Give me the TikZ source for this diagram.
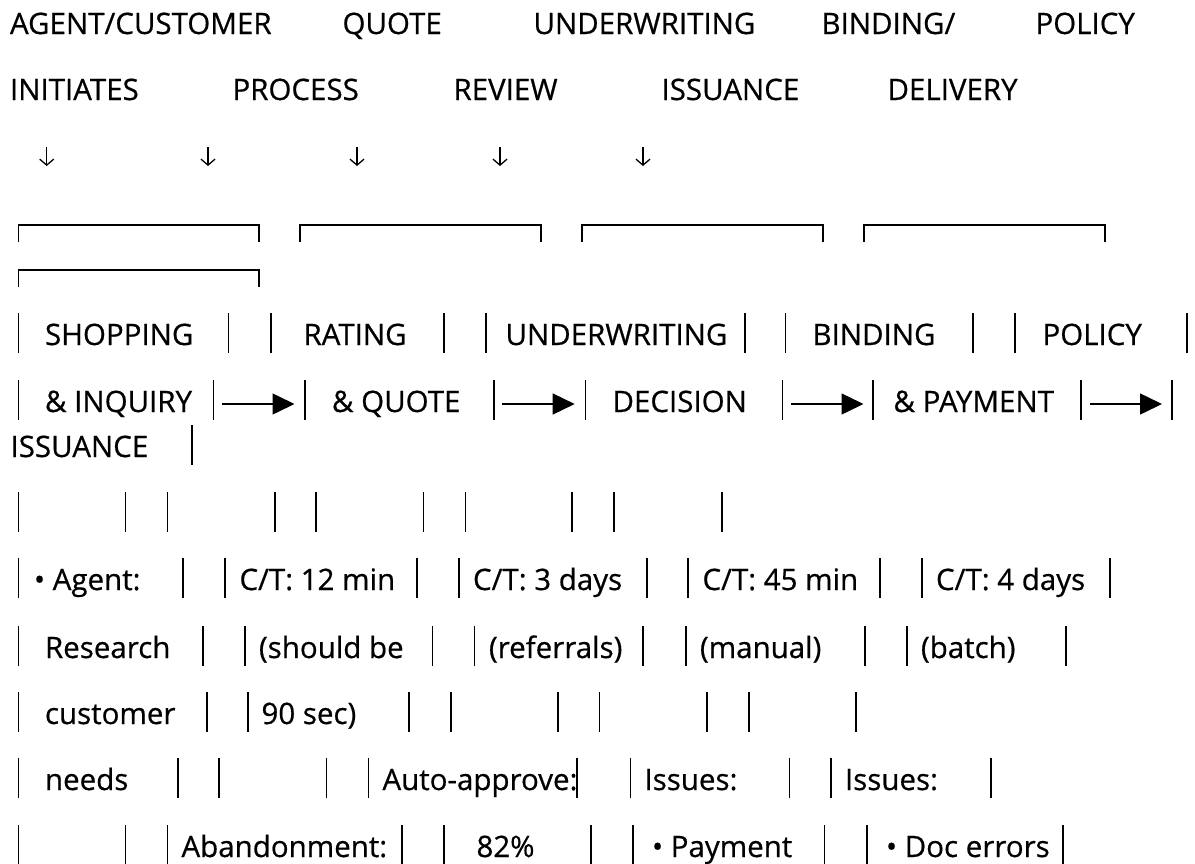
\documentclass[tikz,border=0pt]{standalone}
\usepackage{fontspec}
\setmainfont{Open Sans}[FakeBold=0.6]
\usetikzlibrary{arrows.meta}
\tikzset{
  txt/.style={anchor=base west, inner sep=0pt, outer sep=0pt, font=\fontsize{29.5}{36}\selectfont},
  bar/.style={line width=1.6pt, line cap=butt},
  flow/.style={line width=1.5pt, -{Triangle[length=22pt,width=21pt]}},
  down/.style={line width=1.3pt, -{Straight Barb[length=6pt,width=14pt]}},
}
\newcommand{\vbars}[2]{\foreach \bx in {#1} {\draw[bar] (\bx,#2-32) -- (\bx,#2+8);}}
\newcommand{\boxtop}[3]{\draw[bar] (#1,#3+17) -- (#1,#3) -- (#2,#3) -- (#2,#3+17);}
\begin{document}
\begin{tikzpicture}[x=1pt,y=-1pt]
\useasboundingbox (0,0) rectangle (1195,863);
% header rows
\node[txt] (h1) at (10,34) {AGENT/CUSTOMER};
\node[txt] (h2) at (342.5,34) {QUOTE};
\node[txt] (h3) at (533.5,34) {UNDERWRITING};
\node[txt] (h4) at (821.5,34) {BINDING/};
\node[txt] (h5) at (1035.5,34) {POLICY};
\node[txt] (g1) at (10,100) {INITIATES};
\node[txt] (g2) at (232.5,100) {PROCESS};
\node[txt] (g3) at (453.5,100) {REVIEW};
\node[txt] (g4) at (661.5,100) {ISSUANCE};
\node[txt] (g5) at (887.5,100) {DELIVERY};
% down arrows
\foreach \n/\ax in {1/46.7,2/208,3/357,4/500,5/643}{
  \coordinate (d\n s) at (\ax,147);
  \coordinate (d\n e) at (\ax,166);
  \draw[down] (d\n s) -- (d\n e);
}
% box tops
\boxtop{18.4}{259}{225}
\boxtop{300}{541}{225}
\boxtop{582}{822.7}{225}
\boxtop{864}{1105}{225}
\boxtop{18.4}{259}{270}
% stage names
\vbars{18.4,228.5,271,444,486,745,785.6,973,1015,1187}{345}
\node[txt] (s1) at (45,345) {SHOPPING};
\node[txt] (s2) at (303.5,345) {RATING};
\node[txt] (s3) at (505.5,345) {UNDERWRITING};
\node[txt] (s4) at (812.5,345) {BINDING};
\node[txt] (s5) at (1042.5,345) {POLICY};
\vbars{18.4,213.5,305,493.7,585.5,782.5,873,1081,1172}{412}
\node[txt] (t1) at (45,412) {\& INQUIRY};
\node[txt] (t2) at (332,412) {\& QUOTE};
\node[txt] (t3) at (612.5,412) {DECISION};
\node[txt] (t4) at (893.5,412) {\& PAYMENT};
\foreach \n/\bx in {1/213.5,2/493.7,3/782.5,4/1081}{
  \coordinate (f\n s) at (\bx+8.5,404);
  \coordinate (f\n e) at (\bx+81,404);
  \draw[flow] (f\n s) -- (f\n e);
}
\vbars{191.7}{457}
\node[txt] (u1) at (10.5,457) {ISSUANCE};
\vbars{18.4,125.5,167.6,274.8,316,423.6,465.4,572,614,722}{524}
% details
\vbars{18.4,183,225,417,459,646.7,688,880,922,1109.7}{590}
\node[txt] (c1) at (34,590) {• Agent:};
\node[txt] (c2) at (239.5,590) {C/T: 12 min};
\node[txt] (c3) at (473,590) {C/T: 3 days};
\node[txt] (c4) at (702.5,590) {C/T: 45 min};
\node[txt] (c5) at (936,590) {C/T: 4 days};
\vbars{18.4,203,245,432.5,474.5,643,685.7,865,907,1065.7}{658}
\node[txt] (r1) at (45,658) {Research};
\node[txt] (r2) at (259,658) {(should be};
\node[txt] (r3) at (489,658) {(referrals)};
\node[txt] (r4) at (700,658) {(manual)};
\node[txt] (r5) at (921,658) {(batch)};
\vbars{18.4,206.7,248,408.7,450.8,558,599.6,706.7,748.8,856}{724}
\node[txt] (k1) at (45,724) {customer};
\node[txt] (k2) at (261.5,724) {90 sec)};
\vbars{18.4,178,219,326.4,368.5,577,630.6,789.4,831,991}{790}
\node[txt] (n1) at (45,790) {needs};
\node[txt] (n2) at (382.5,790) {Auto-approve:};
\node[txt] (n3) at (644.5,790) {Issues:};
\node[txt] (n4) at (845,790) {Issues:};
\vbars{18.4,125.5,167.6,401.8,444,591,633,824.6,866.7,1062.7}{857}
\node[txt] (m1) at (181.5,857) {Abandonment:};
\node[txt] (m2) at (476.5,857) {82\%};
\node[txt] (m3) at (652,857) {• Payment};
\node[txt] (m4) at (886,857) {• Doc errors};
\end{tikzpicture}
\end{document}
